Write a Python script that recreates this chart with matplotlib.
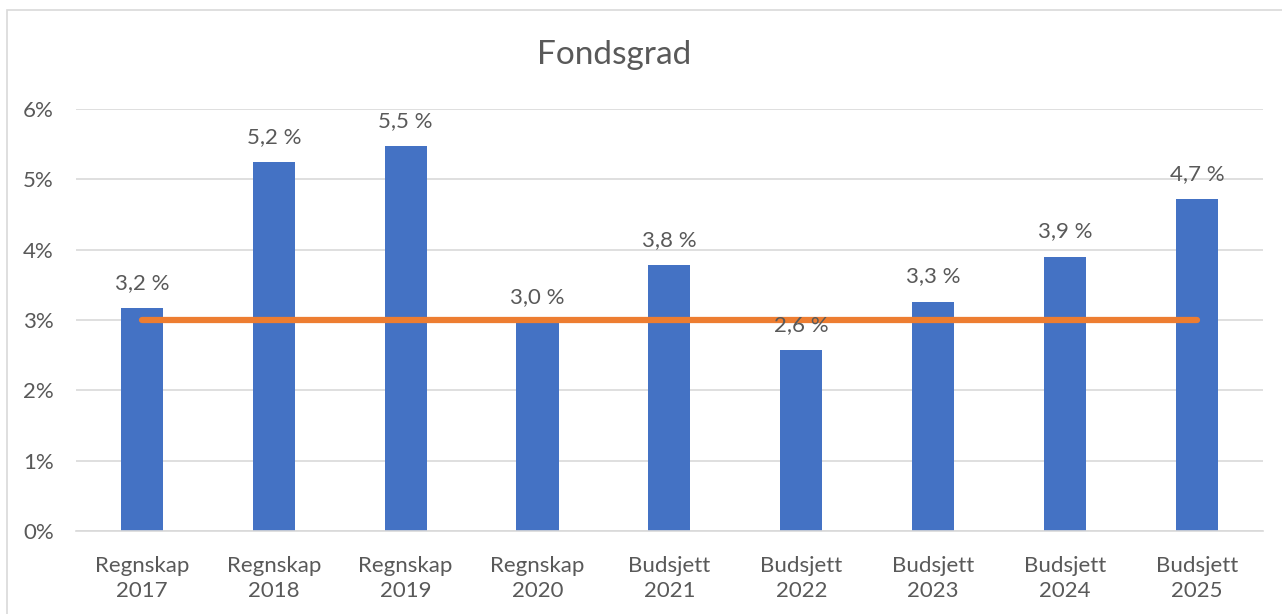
import matplotlib.pyplot as plt
from matplotlib.patches import Rectangle
from matplotlib.ticker import FuncFormatter

plt.rcParams.update({
    "font.family": ["Lato", "DejaVu Sans"],
    "font.size": 16,
    "text.color": "#595959",
})

C_BAR = "#4472C4"
C_LINE = "#ED7D31"
C_GRID = "#D9D9D9"
C_TEXT = "#595959"

categories = ["Regnskap\n2017", "Regnskap\n2018", "Regnskap\n2019", "Regnskap\n2020",
              "Budsjett\n2021", "Budsjett\n2022", "Budsjett\n2023", "Budsjett\n2024",
              "Budsjett\n2025"]
fondsgrad = [0.0317, 0.0524, 0.0547, 0.0297, 0.0378, 0.0257, 0.0326, 0.0390, 0.0472]
target = [0.03] * len(categories)

fig = plt.figure(figsize=(12.82, 6.14), dpi=100)
ax = fig.add_axes([0.0593, 0.1352, 0.9257, 0.6873])

x = range(len(categories))
ax.bar(x, fondsgrad, width=0.32, color=C_BAR, zorder=2)
ax.plot(x, target, color=C_LINE, linewidth=4.5, solid_capstyle="round", zorder=3)

for xi, v in zip(x, fondsgrad):
    ax.annotate(f"{v * 100:.1f} %".replace(".", ","), xy=(xi, v),
                xytext=(0, 11), textcoords="offset points",
                ha="center", va="bottom", fontsize=16, color=C_TEXT, zorder=4)

ax.set_xlim(-0.5, len(categories) - 0.5)
ax.set_ylim(0, 0.06)
ax.set_yticks([0, 0.01, 0.02, 0.03, 0.04, 0.05, 0.06])
ax.yaxis.set_major_formatter(FuncFormatter(lambda v, _: f"{v * 100:.0f}%"))
ax.set_xticks(list(x))
ax.set_xticklabels(categories, linespacing=1.33)

ax.grid(axis="y", color=C_GRID, linewidth=1.2, zorder=0)
ax.set_axisbelow(True)
for s in ["top", "right", "left"]:
    ax.spines[s].set_visible(False)
ax.spines["bottom"].set_color(C_GRID)
ax.spines["bottom"].set_linewidth(1.2)
ax.tick_params(axis="both", length=0, colors=C_TEXT, labelsize=16)
ax.tick_params(axis="y", pad=16)
ax.tick_params(axis="x", pad=18)

fig.text(0.479, 0.91, "Fondsgrad", ha="center", va="center", fontsize=24, color=C_TEXT)

# outer chart frame
fig.patches.append(Rectangle((7 / 1282, -0.05), 1.2, 1 - 10 / 614 + 0.05,
                             transform=fig.transFigure, fill=False,
                             edgecolor=C_GRID, linewidth=1.2))

fig.savefig("out.png", dpi=100)
